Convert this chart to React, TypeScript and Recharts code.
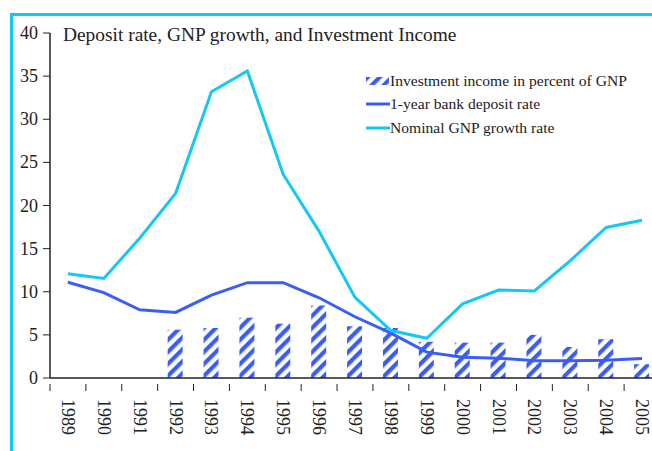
import React from 'react';
import { ComposedChart, Bar, Line, XAxis, YAxis, Legend } from 'recharts';

const years = ['1989', '1990', '1991', '1992', '1993', '1994', '1995', '1996', '1997', '1998', '1999', '2000', '2001', '2002', '2003', '2004', '2005'];
const investmentIncome = [null, null, null, 5.6, 5.8, 7.0, 6.3, 8.4, 6.0, 5.8, 4.2, 4.1, 4.1, 5.0, 3.6, 4.5, 1.6];
const depositRate = [11.1, 9.9, 7.9, 7.6, 9.6, 11.05, 11.05, 9.3, 7.1, 5.2, 3.0, 2.4, 2.3, 2.0, 2.0, 2.05, 2.25];
const gnpGrowth = [12.1, 11.55, 16.2, 21.4, 33.2, 35.6, 23.6, 17.0, 9.35, 5.5, 4.6, 8.6, 10.2, 10.1, 13.6, 17.45, 18.3];
const yTicks = [0, 5, 10, 15, 20, 25, 30, 35, 40];

const data = years.map((year, i) => ({
    year,
    income: investmentIncome[i],
    deposit: depositRate[i],
    gnp: gnpGrowth[i],
}));

const FONT = '"Liberation Serif", "DejaVu Serif", serif';
const BLUE = '#3a5ef5';
const CYAN = '#14c8f5';
const PLOT_LEFT = 50;
const PLOT_WIDTH = 610;
const BAND = PLOT_WIDTH / years.length;

const YearTick = ({ x, y, payload }: any) => (
    <g>
        <line x1={x - BAND / 2} y1={y - 2} x2={x - BAND / 2} y2={y + 5} stroke="#222" strokeWidth={1} />
        <text
            x={0}
            y={0}
            transform={`translate(${x},${y + 13}) rotate(90)`}
            textAnchor="start"
            dominantBaseline="central"
            style={{ fontFamily: FONT, fontSize: 18 }}
            fill="#222"
        >
            {payload.value}
        </text>
    </g>
);

const ValueTick = ({ x, y, payload }: any) => (
    <text x={x} y={y} textAnchor="end" dominantBaseline="central" style={{ fontFamily: FONT, fontSize: 18 }} fill="#222">
        {payload.value}
    </text>
);

const legendItems = [
    { label: 'Investment income in percent of GNP', kind: 'bar' },
    { label: '1-year bank deposit rate', kind: 'line', color: BLUE },
    { label: 'Nominal GNP growth rate', kind: 'line', color: CYAN },
];

const ChartLegend = () => (
    <div style={{ fontFamily: FONT, fontSize: 15.6, color: '#222' }}>
        {legendItems.map((item) => (
            <div key={item.label} style={{ display: 'flex', alignItems: 'center', height: 23.5 }}>
                <svg width={24} height={10}>
                    {item.kind === 'bar' ? (
                        <rect x={0} y={1} width={23} height={8} fill="url(#stripes)" />
                    ) : (
                        <line x1={0} y1={5} x2={24} y2={5} stroke={item.color} strokeWidth={3} />
                    )}
                </svg>
                <span>{item.label}</span>
            </div>
        ))}
    </div>
);

export default function App() {
    return (
        <div style={{ position: 'absolute', left: 0, top: 0, width: 652, height: 451, overflow: 'hidden', background: '#fff' }}>
            <div
                style={{
                    position: 'absolute',
                    left: 10,
                    top: 13,
                    width: 660,
                    height: 460,
                    borderTop: `3px solid ${CYAN}`,
                    borderLeft: `3px solid ${CYAN}`,
                }}
            />
            <div
                style={{
                    position: 'absolute',
                    left: 63,
                    top: 24,
                    fontFamily: FONT,
                    fontSize: 19.4,
                    color: '#222',
                    whiteSpace: 'nowrap',
                }}
            >
                Deposit rate, GNP growth, and Investment Income
            </div>
            <div style={{ position: 'absolute', left: 0, top: 0 }}>
                <ComposedChart
                    width={PLOT_LEFT + PLOT_WIDTH + 2}
                    height={451}
                    data={data}
                    margin={{ top: 33, right: 2, left: 0, bottom: 13 }}
                >
                    <defs>
                        <pattern id="stripes" patternUnits="userSpaceOnUse" width={8.5} height={8.5} patternTransform="rotate(45)">
                            <rect x={0} y={0} width={8.5} height={8.5} fill="#fff" />
                            <rect x={0} y={0} width={4.2} height={8.5} fill={BLUE} />
                        </pattern>
                    </defs>
                    <XAxis
                        dataKey="year"
                        height={60}
                        interval={0}
                        tickLine={false}
                        axisLine={{ stroke: '#222', strokeWidth: 1.5 }}
                        tick={<YearTick />}
                    />
                    <YAxis
                        width={PLOT_LEFT}
                        domain={[0, 40]}
                        ticks={yTicks}
                        interval={0}
                        tickSize={7}
                        tickMargin={5}
                        axisLine={{ stroke: '#222', strokeWidth: 1.5 }}
                        tickLine={{ stroke: '#222' }}
                        tick={<ValueTick />}
                    />
                    <Legend
                        layout="vertical"
                        align="center"
                        verticalAlign="middle"
                        wrapperStyle={{ left: 366, top: 69, width: 290 }}
                        content={<ChartLegend />}
                    />
                    <Bar dataKey="income" name="Investment income in percent of GNP" barSize={15} fill="url(#stripes)" isAnimationActive={false} />
                    <Line dataKey="deposit" name="1-year bank deposit rate" type="linear" stroke={BLUE} strokeWidth={3} dot={false} isAnimationActive={false} />
                    <Line dataKey="gnp" name="Nominal GNP growth rate" type="linear" stroke={CYAN} strokeWidth={3} dot={false} isAnimationActive={false} />
                </ComposedChart>
            </div>
        </div>
    );
}
